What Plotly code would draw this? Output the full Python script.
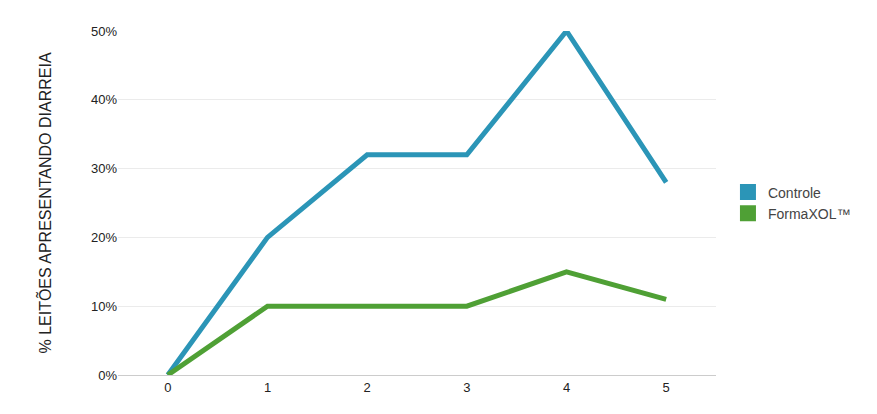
import plotly.graph_objects as go

# Data
days = [0, 1, 2, 3, 4, 5]
controle = [0, 20, 32, 32, 50, 28]
formaxol = [0, 10, 10, 10, 15, 11]

names = ["Controle", "FormaXOL™"]
colors = ["#2b95b7", "#4fa035"]

fig = go.Figure()
for name, vals, color in zip(names, [controle, formaxol], colors):
    fig.add_trace(go.Scatter(x=days, y=vals, mode="lines", name=name,
                             line=dict(color=color, width=5), showlegend=False))
    # legend entry with a square swatch
    fig.add_trace(go.Scatter(x=[None], y=[None], mode="markers", name=name,
                             marker=dict(symbol="square", size=16, color=color)))

fig.update_layout(
    width=877, height=414,
    margin=dict(l=110, r=169, t=23, b=47),
    plot_bgcolor="white", paper_bgcolor="white",
    font=dict(family="Arial, Liberation Sans", size=13, color="#222"),
    legend=dict(x=1.02, y=0.5, yanchor="middle", font=dict(size=14, color="#444"),
                tracegroupgap=6),
    xaxis=dict(range=[-0.5, 5.5], dtick=1, showgrid=False, zeroline=False,
               showline=True, linecolor="#ccc", ticks=""),
    yaxis=dict(range=[0, 50], dtick=10, ticksuffix="%", gridcolor="#ebebeb",
               zeroline=False,
               title=dict(text="% LEITÕES APRESENTANDO DIARREIA",
                          font=dict(size=16, color="#222"), standoff=35)),
)

fig.write_html("out.html")
